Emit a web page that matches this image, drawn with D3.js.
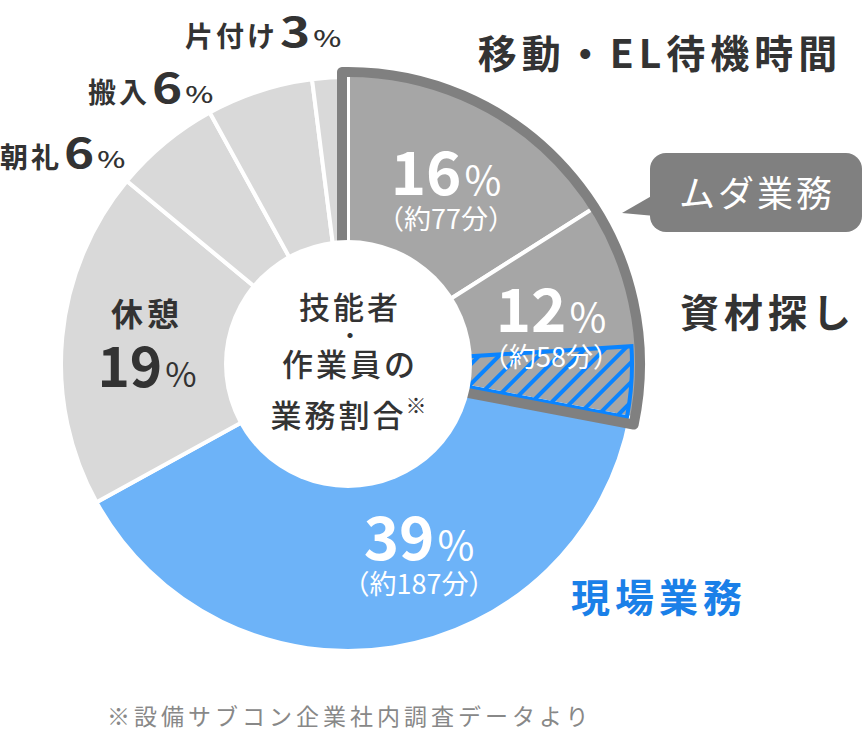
<!DOCTYPE html>
<html><head><meta charset="utf-8">
<script src="https://cdn.jsdelivr.net/npm/d3@7"></script>
<style>
html,body{margin:0;padding:0;background:#fff;}
svg{display:block;font-family:'Noto Sans CJK JP','Noto Sans',sans-serif;}
</style></head>
<body><svg id="chart" width="867" height="753"></svg>
<script>
// ---- data ----
const categories = ["移動・EL待機時間","資材探し","現場業務","休憩","朝礼","搬入","片付け"];
const values = [16, 12, 39, 19, 6, 6, 3];
const minutesLabels = ["（約77分）","（約58分）","（約187分）", null, null, null, null];
const wasteCategories = ["移動・EL待機時間","資材探し"];   // ムダ業務
const hatchedShare = 4;   // part of 資材探し shown hatched (percentage points, at its end)
const centerLines = ["技能者","・","作業員の","業務割合"];
const footnote = "※設備サブコン企業社内調査データより";

// ---- layout ----
const svg = d3.select("#chart");
const cx = 348, cy = 364, R = 287, r0 = 124;
const font = "'Noto Sans CJK JP','Noto Sans',sans-serif";
const dark = "#333333";

const angle = d3.scaleLinear().domain([0, 100]).range([0, 2 * Math.PI]).clamp(true);
const colorOf = (c) => c === "現場業務" ? "#6db3f8" : (wasteCategories.includes(c) ? "#a6a6a6" : "#d9d9d9");

let acc = 0;
const slices = categories.map((c, i) => {
  const s = { cat: c, value: values[i], start: acc, end: acc + values[i] };
  acc += values[i];
  return s;
});

const g = svg.append("g").attr("transform", `translate(${cx},${cy})`);

const arcNormal = d3.arc().innerRadius(0).outerRadius(R);
const arcWaste = d3.arc().innerRadius(0).outerRadius(291);

g.selectAll("path.slice").data(slices).join("path")
  .attr("class", "slice")
  .attr("d", d => (wasteCategories.includes(d.cat) ? arcWaste : arcNormal)({ startAngle: angle(d.start), endAngle: angle(d.end) }))
  .attr("fill", d => colorOf(d.cat))
  .attr("stroke", "#fff").attr("stroke-width", 4).attr("stroke-linejoin", "miter");

// hatch pattern
const defs = svg.append("defs");
const pat = defs.append("pattern").attr("id", "hatch").attr("patternUnits", "userSpaceOnUse")
  .attr("width", 14).attr("height", 14).attr("patternTransform", "rotate(45)");
pat.append("line").attr("x1", 3).attr("y1", -1).attr("x2", 3).attr("y2", 15)
  .attr("stroke", "#0a84ff").attr("stroke-width", 4);

const sz = slices.find(s => s.cat === "資材探し");
const arcHatch = d3.arc().innerRadius(r0 - 20).outerRadius(284);
g.append("path")
  .attr("d", arcHatch({ startAngle: angle(sz.end - hatchedShare), endAngle: angle(sz.end) }))
  .attr("fill", "url(#hatch)")
  .attr("stroke", "#0a84ff").attr("stroke-width", 4);

// waste outline (offset outward)
const w0 = angle(slices.find(s => s.cat === wasteCategories[0]).start);
const w1 = angle(slices.find(s => s.cat === wasteCategories[wasteCategories.length - 1]).end);
const off = 6, Ro = 292, tin = 100, tout = Math.sqrt(Ro * Ro - off * off);
const u = t => [Math.sin(t), -Math.cos(t)];
const n0 = [-Math.cos(w0), -Math.sin(w0)], n1 = [Math.cos(w1), Math.sin(w1)];
const P = (n, t, s) => { const uu = u(t); return [n[0] * off + uu[0] * s, n[1] * off + uu[1] * s]; };
const a = P(n0, w0, tin), b = P(n0, w0, tout), c2 = P(n1, w1, tout), d2 = P(n1, w1, tin);
const large = (w1 - w0 + 2 * Math.asin(off / Ro)) > Math.PI ? 1 : 0;
g.append("path")
  .attr("d", `M${a}L${b}A${Ro},${Ro} 0 ${large} 1 ${c2}L${d2}`)
  .attr("fill", "none").attr("stroke", "#808080").attr("stroke-width", 10)
  .attr("stroke-linejoin", "round").attr("stroke-linecap", "round");

// inner white circle
g.append("circle").attr("r", r0).attr("fill", "#fff");

// center text
const ct = svg.append("g").attr("font-family", font).attr("fill", dark)
  .attr("font-size", 31).attr("font-weight", 500).attr("text-anchor", "middle");
const cys = [319, 343, 376, 427];
centerLines.forEach((t, i) => {
  const tx = ct.append("text").attr("x", cx + 2).attr("y", cys[i]).attr("letter-spacing", 3).text(t);
  if (i === 1) tx.attr("font-size", 22).attr("letter-spacing", 0);
  if (i === 3) tx.append("tspan").attr("font-size", 21).attr("dy", -14).attr("dx", -1).text("※");
});

// in-slice labels
const inLabels = {
  "移動・EL待機時間": { x: 446, y: 195, ny: 229, col: "#fff", big: 60, pct: 40 },
  "資材探し": { x: 551, y: 332, ny: 367, col: "#fff", big: 60, pct: 40 },
  "現場業務": { x: 419, y: 560, ny: 594, col: "#fff", big: 60, pct: 40 },
  "休憩": { x: 147, y: 387, col: dark, big: 55, pct: 34 }
};
slices.forEach((s, i) => {
  const L = inLabels[s.cat];
  if (!L) return;
  const t = svg.append("text").attr("x", L.x).attr("y", L.y).attr("text-anchor", "middle")
    .attr("font-family", font).attr("fill", L.col);
  t.append("tspan").attr("font-size", L.big).attr("font-weight", 700).text(s.value);
  t.append("tspan").attr("font-size", L.pct).attr("font-weight", 400).attr("dx", 3).text("%");
  if (minutesLabels[i]) {
    svg.append("text").attr("x", L.x).attr("y", L.ny).attr("text-anchor", "middle")
      .attr("font-family", font).attr("fill", L.col).attr("font-size", 27).text(minutesLabels[i]);
  }
});
svg.append("text").attr("x", 147).attr("y", 326).attr("text-anchor", "middle")
  .attr("font-family", font).attr("fill", dark).attr("font-size", 32).attr("font-weight", 700)
  .attr("letter-spacing", 4).text("休憩");

// outside small labels
const outLabels = { "片付け": { x: 185, y: 47 }, "搬入": { x: 88, y: 103 }, "朝礼": { x: 0, y: 168 } };
slices.forEach(s => {
  const L = outLabels[s.cat];
  if (!L) return;
  const gl = svg.append("g").attr("transform", `translate(${L.x},${L.y})`)
    .attr("font-family", font).attr("fill", dark);
  const t1 = gl.append("text").attr("font-size", 28).attr("font-weight", 700).attr("letter-spacing", 3).text(s.cat);
  const w1 = t1.node().getComputedTextLength();
  const sx = 1.25;
  const t2 = gl.append("text").attr("font-size", 41).attr("font-weight", 700)
    .attr("transform", `translate(${w1 + 2},0) scale(${sx},1)`).text(s.value);
  const w2 = t2.node().getComputedTextLength() * sx;
  gl.append("text").attr("font-size", 23).attr("font-weight", 500)
    .attr("transform", `translate(${w1 + 3 + w2 + 2},0) scale(1.3,1)`).text("%");
});

// category titles
const titles = {
  "移動・EL待機時間": { x: 660, y: 68, col: dark },
  "資材探し": { x: 768, y: 327, col: dark },
  "現場業務": { x: 659, y: 612, col: "#1a80e8" }
};
Object.entries(titles).forEach(([k, v]) => {
  svg.append("text").attr("x", v.x).attr("y", v.y).attr("text-anchor", "middle")
    .attr("font-family", font).attr("font-size", 39).attr("font-weight", 700)
    .attr("letter-spacing", 5).attr("fill", v.col).text(k);
});

// callout bubble
svg.append("path").attr("d", "M655,194L622,213L655,216Z").attr("fill", "#808080");
svg.append("rect").attr("x", 650).attr("y", 153).attr("width", 212).attr("height", 79)
  .attr("rx", 16).attr("fill", "#808080");
svg.append("text").attr("x", 757).attr("y", 207).attr("text-anchor", "middle")
  .attr("font-family", font).attr("font-size", 36).attr("font-weight", 400)
  .attr("letter-spacing", 3).attr("fill", "#fff").text("ムダ業務");

// footnote
svg.append("text").attr("x", 107).attr("y", 725).attr("font-family", font)
  .attr("font-size", 23).attr("letter-spacing", 4).attr("fill", "#888").text(footnote);
</script></body></html>
